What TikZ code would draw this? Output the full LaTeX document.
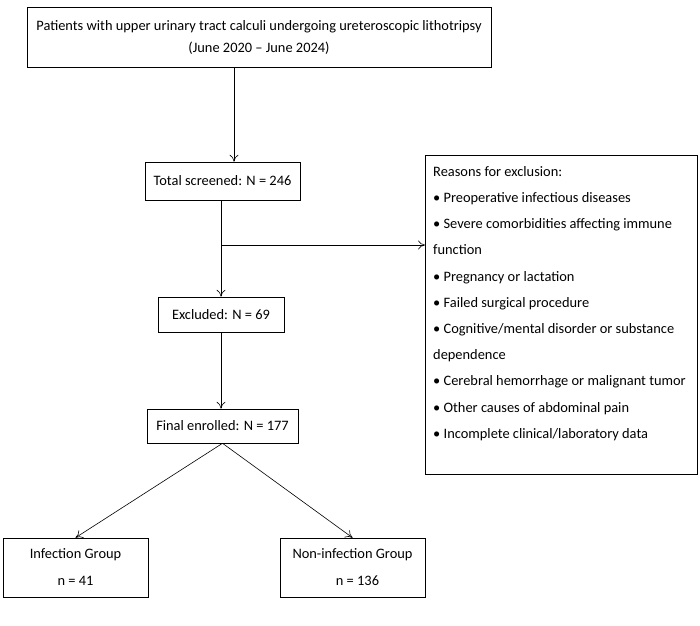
\documentclass[tikz,border=0pt]{standalone}
\usepackage{fontspec}
\setmainfont{Carlito}
\usetikzlibrary{arrows.meta}
\begin{document}
\begin{tikzpicture}[x=1pt, y=-1pt, font=\fontsize{14.4}{17}\selectfont,
  box/.style={draw, line width=0.6pt, inner sep=0pt},
  arr/.style={-{To[length=7pt,width=9pt]}, line width=0.6pt}]
\useasboundingbox (0,0) rectangle (700,625);
% boxes
\node[box, minimum width=464pt, minimum height=60pt, align=center] (top) at (259,37)
  {Patients with upper urinary tract calculi undergoing ureteroscopic lithotripsy\\[5pt](June 2020 -- June 2024)};
\node[box, minimum width=155pt, minimum height=38pt] (scr) at (222.5,181) {Total screened: N = 246};
\node[box, minimum width=126pt, minimum height=35pt] (exc) at (221,314.5) {Excluded: N = 69};
\node[box, minimum width=151pt, minimum height=34pt] (fin) at (222.5,426) {Final enrolled: N = 177};
\node[box, minimum width=145pt, minimum height=59pt, align=center] (inf) at (75.5,567.5)
  {Infection Group\\[10pt]n = 41};
\node[box, minimum width=145pt, minimum height=59pt, align=center] (non) at (352.5,567.5)
  {Non-infection Group\\[10pt]\hspace{10pt}n = 136};
\node[box, minimum width=272pt, minimum height=319pt, anchor=north west] (why) at (425,155) {};
\node[anchor=north west, align=left, inner sep=0pt, font=\fontsize{14.4}{26.2}\selectfont] at (433,166)
  {Reasons for exclusion:\\
   • Preoperative infectious diseases\\
   • Severe comorbidities affecting immune\\
   function\\
   • Pregnancy or lactation\\
   • Failed surgical procedure\\
   • Cognitive/mental disorder or substance\\
   dependence\\
   • Cerebral hemorrhage or malignant tumor\\
   • Other causes of abdominal pain\\
   • Incomplete clinical/laboratory data};
% connectors
\draw[arr] (top.south -| 234,0) -- (scr.north -| 234,0);
\draw[arr] (scr.south -| exc.north) -- (exc.north);
\coordinate (br) at (exc.north |- 0,245);
\draw[arr] (br) -- (why.west |- br);
\draw[arr] (exc.south) -- (fin.north -| exc.south);
\draw[arr] (fin.south) -- (inf.north);
\draw[arr] (fin.south) -- (non.north);
\end{tikzpicture}
\end{document}
